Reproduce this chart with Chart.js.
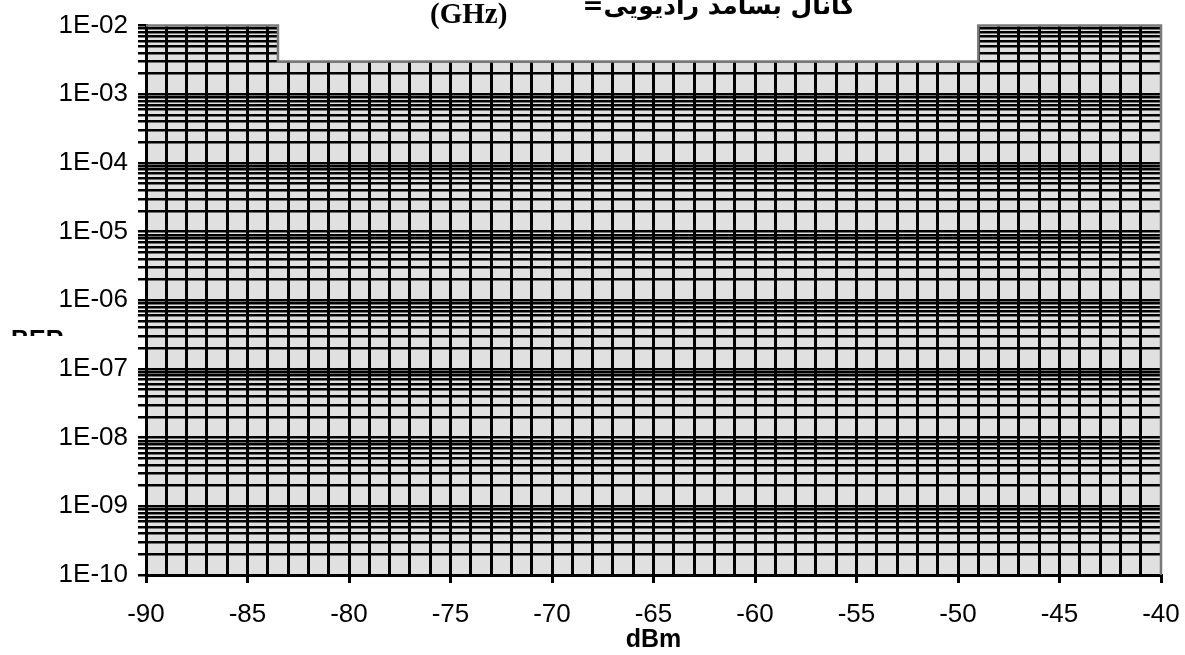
<!DOCTYPE html>
<html lang="fa">

<head>
    <meta charset="UTF-8">
    <meta name="viewport" content="width=device-width, initial-scale=1.0">
    <title>BER - dBm</title>
    <style>
        html, body { margin: 0; padding: 0; background: #fff; }
        #Wrap { position: relative; width: 1185px; height: 655px; overflow: hidden; }
        #Grafico { position: absolute; left: 0; top: 0; }
        .titulo-ghz { position: absolute; left: 430px; top: -3px; font: bold 29px "Liberation Serif"; color: #000; }
        .titulo-fa { position: absolute; right: 330px; top: -9px; font: bold 25px "DejaVu Sans"; color: #000; direction: rtl; white-space: nowrap; }
        .ber { position: absolute; left: 11px; top: 330px; height: 6px; overflow: hidden; font: bold 25px "Liberation Sans"; line-height: 25px; color: #000; }
        .ber span { display: block; margin-top: -3px; }
    </style>
</head>

<body>
    <div id="Wrap">
        <canvas id="Grafico" width="1185" height="655"></canvas>
        <div class="titulo-ghz">(GHz)</div>
        <div class="titulo-fa">کانال بسامد رادیویی=</div>
        <div class="ber"><span>BER</span></div>
    </div>
</body>

</html>
<script src="https://cdn.jsdelivr.net/npm/chart.js"></script>
<script>
    // mascara (area cinza)
    const maskX = [-90, -83.5, -83.5, -49, -49, -40, -40];
    const maskY = [1e-2, 1e-2, 3e-3, 3e-3, 1e-2, 1e-2, 1e-10];
    // recorte branco em cima
    const notchX = [-83.5, -49];
    const notchY = [1e-2, 1e-2];
    const notchFloor = 3e-3;

    const xTickValues = [-90, -85, -80, -75, -70, -65, -60, -55, -50, -45, -40];
    const xTickLabels = ['-90', '-85', '-80', '-75', '-70', '-65', '-60', '-55', '-50', '-45', '-40'];
    const yDecades = [1e-10, 1e-9, 1e-8, 1e-7, 1e-6, 1e-5, 1e-4, 1e-3, 1e-2];
    const yTickLabels = ['1E-10', '1E-09', '1E-08', '1E-07', '1E-06', '1E-05', '1E-04', '1E-03', '1E-02'];
    const yMinorSteps = [2, 3, 4, 5, 6, 7, 8, 9];

    let yGrid = [];
    for (let i = 0; i < yDecades.length; i++) {
        yGrid.push(yDecades[i]);
        if (i < yDecades.length - 1) {
            for (let j = 0; j < yMinorSteps.length; j++) {
                yGrid.push(yDecades[i] * yMinorSteps[j]);
            }
        }
    }

    function pontos(xs, ys) {
        let lista = [];
        for (let i = 0; i < xs.length; i++) {
            lista.push({ x: xs[i], y: ys[i] });
        }
        return lista;
    }

    function achaDecada(v) {
        return yDecades.findIndex((d) => Math.abs(d - v) < d * 1e-6);
    }

    const yTop = yDecades[yDecades.length - 1];
    const xRight = xTickValues[xTickValues.length - 1];

    const config = {
        type: 'line',
        data: {
            datasets: [{
                data: pontos(maskX, maskY),
                borderColor: '#7a7a7a',
                borderWidth: 2.5,
                backgroundColor: 'rgba(0,0,0,0.12)',
                fill: 'start',
                pointRadius: 0,
                tension: 0,
                clip: false
            }, {
                data: pontos(notchX, notchY),
                borderColor: '#ffffff',
                borderWidth: 5,
                backgroundColor: '#ffffff',
                fill: { value: notchFloor },
                pointRadius: 0,
                tension: 0,
                clip: false
            }]
        },
        options: {
            responsive: false,
            devicePixelRatio: 1,
            animation: false,
            layout: { padding: { top: 24, right: 24, left: 0, bottom: 0 } },
            plugins: {
                legend: { display: false },
                tooltip: { enabled: false }
            },
            scales: {
                x: {
                    type: 'linear',
                    min: -90,
                    max: -40,
                    afterFit: (scale) => {
                        scale.height = 80;
                        scale.paddingLeft = 0;
                        scale.paddingRight = 20;
                    },
                    border: { color: '#000', width: 3 },
                    grid: {
                        lineWidth: 3,
                        color: (ctx) => (ctx.tick && ctx.tick.value === xRight) ? 'rgba(0,0,0,0)' : '#000',
                        tickColor: (ctx) => (ctx.tick && xTickValues.includes(ctx.tick.value)) ? '#000' : 'rgba(0,0,0,0)',
                        tickLength: 8
                    },
                    ticks: {
                        stepSize: 1,
                        autoSkip: false,
                        maxRotation: 0,
                        minRotation: 0,
                        padding: 16,
                        color: '#000',
                        font: { family: 'Liberation Sans', size: 26 },
                        callback: (value) => {
                            const idx = xTickValues.indexOf(value);
                            return idx >= 0 ? xTickLabels[idx] : '';
                        }
                    },
                    title: {
                        display: true,
                        text: 'dBm',
                        color: '#000',
                        font: { family: 'Liberation Sans', size: 25, weight: 'bold' },
                        padding: { top: 0, bottom: 0 }
                    }
                },
                y: {
                    type: 'logarithmic',
                    min: 1e-10,
                    max: 1e-2,
                    afterFit: (scale) => { scale.width = 146; },
                    afterBuildTicks: (scale) => {
                        scale.ticks = yGrid.map((v) => ({ value: v }));
                    },
                    border: { color: '#000', width: 3 },
                    grid: {
                        lineWidth: 2.5,
                        color: (ctx) => (ctx.tick && Math.abs(ctx.tick.value - yTop) < 1e-9) ? 'rgba(0,0,0,0)' : '#000',
                        tickColor: '#000',
                        tickLength: 8
                    },
                    ticks: {
                        autoSkip: false,
                        padding: 10,
                        color: '#000',
                        font: { family: 'Liberation Sans', size: 26 },
                        callback: (value) => {
                            const idx = achaDecada(value);
                            return idx >= 0 ? yTickLabels[idx] : '';
                        }
                    }
                }
            }
        }
    };

    new Chart(document.getElementById('Grafico'), config);
</script>
